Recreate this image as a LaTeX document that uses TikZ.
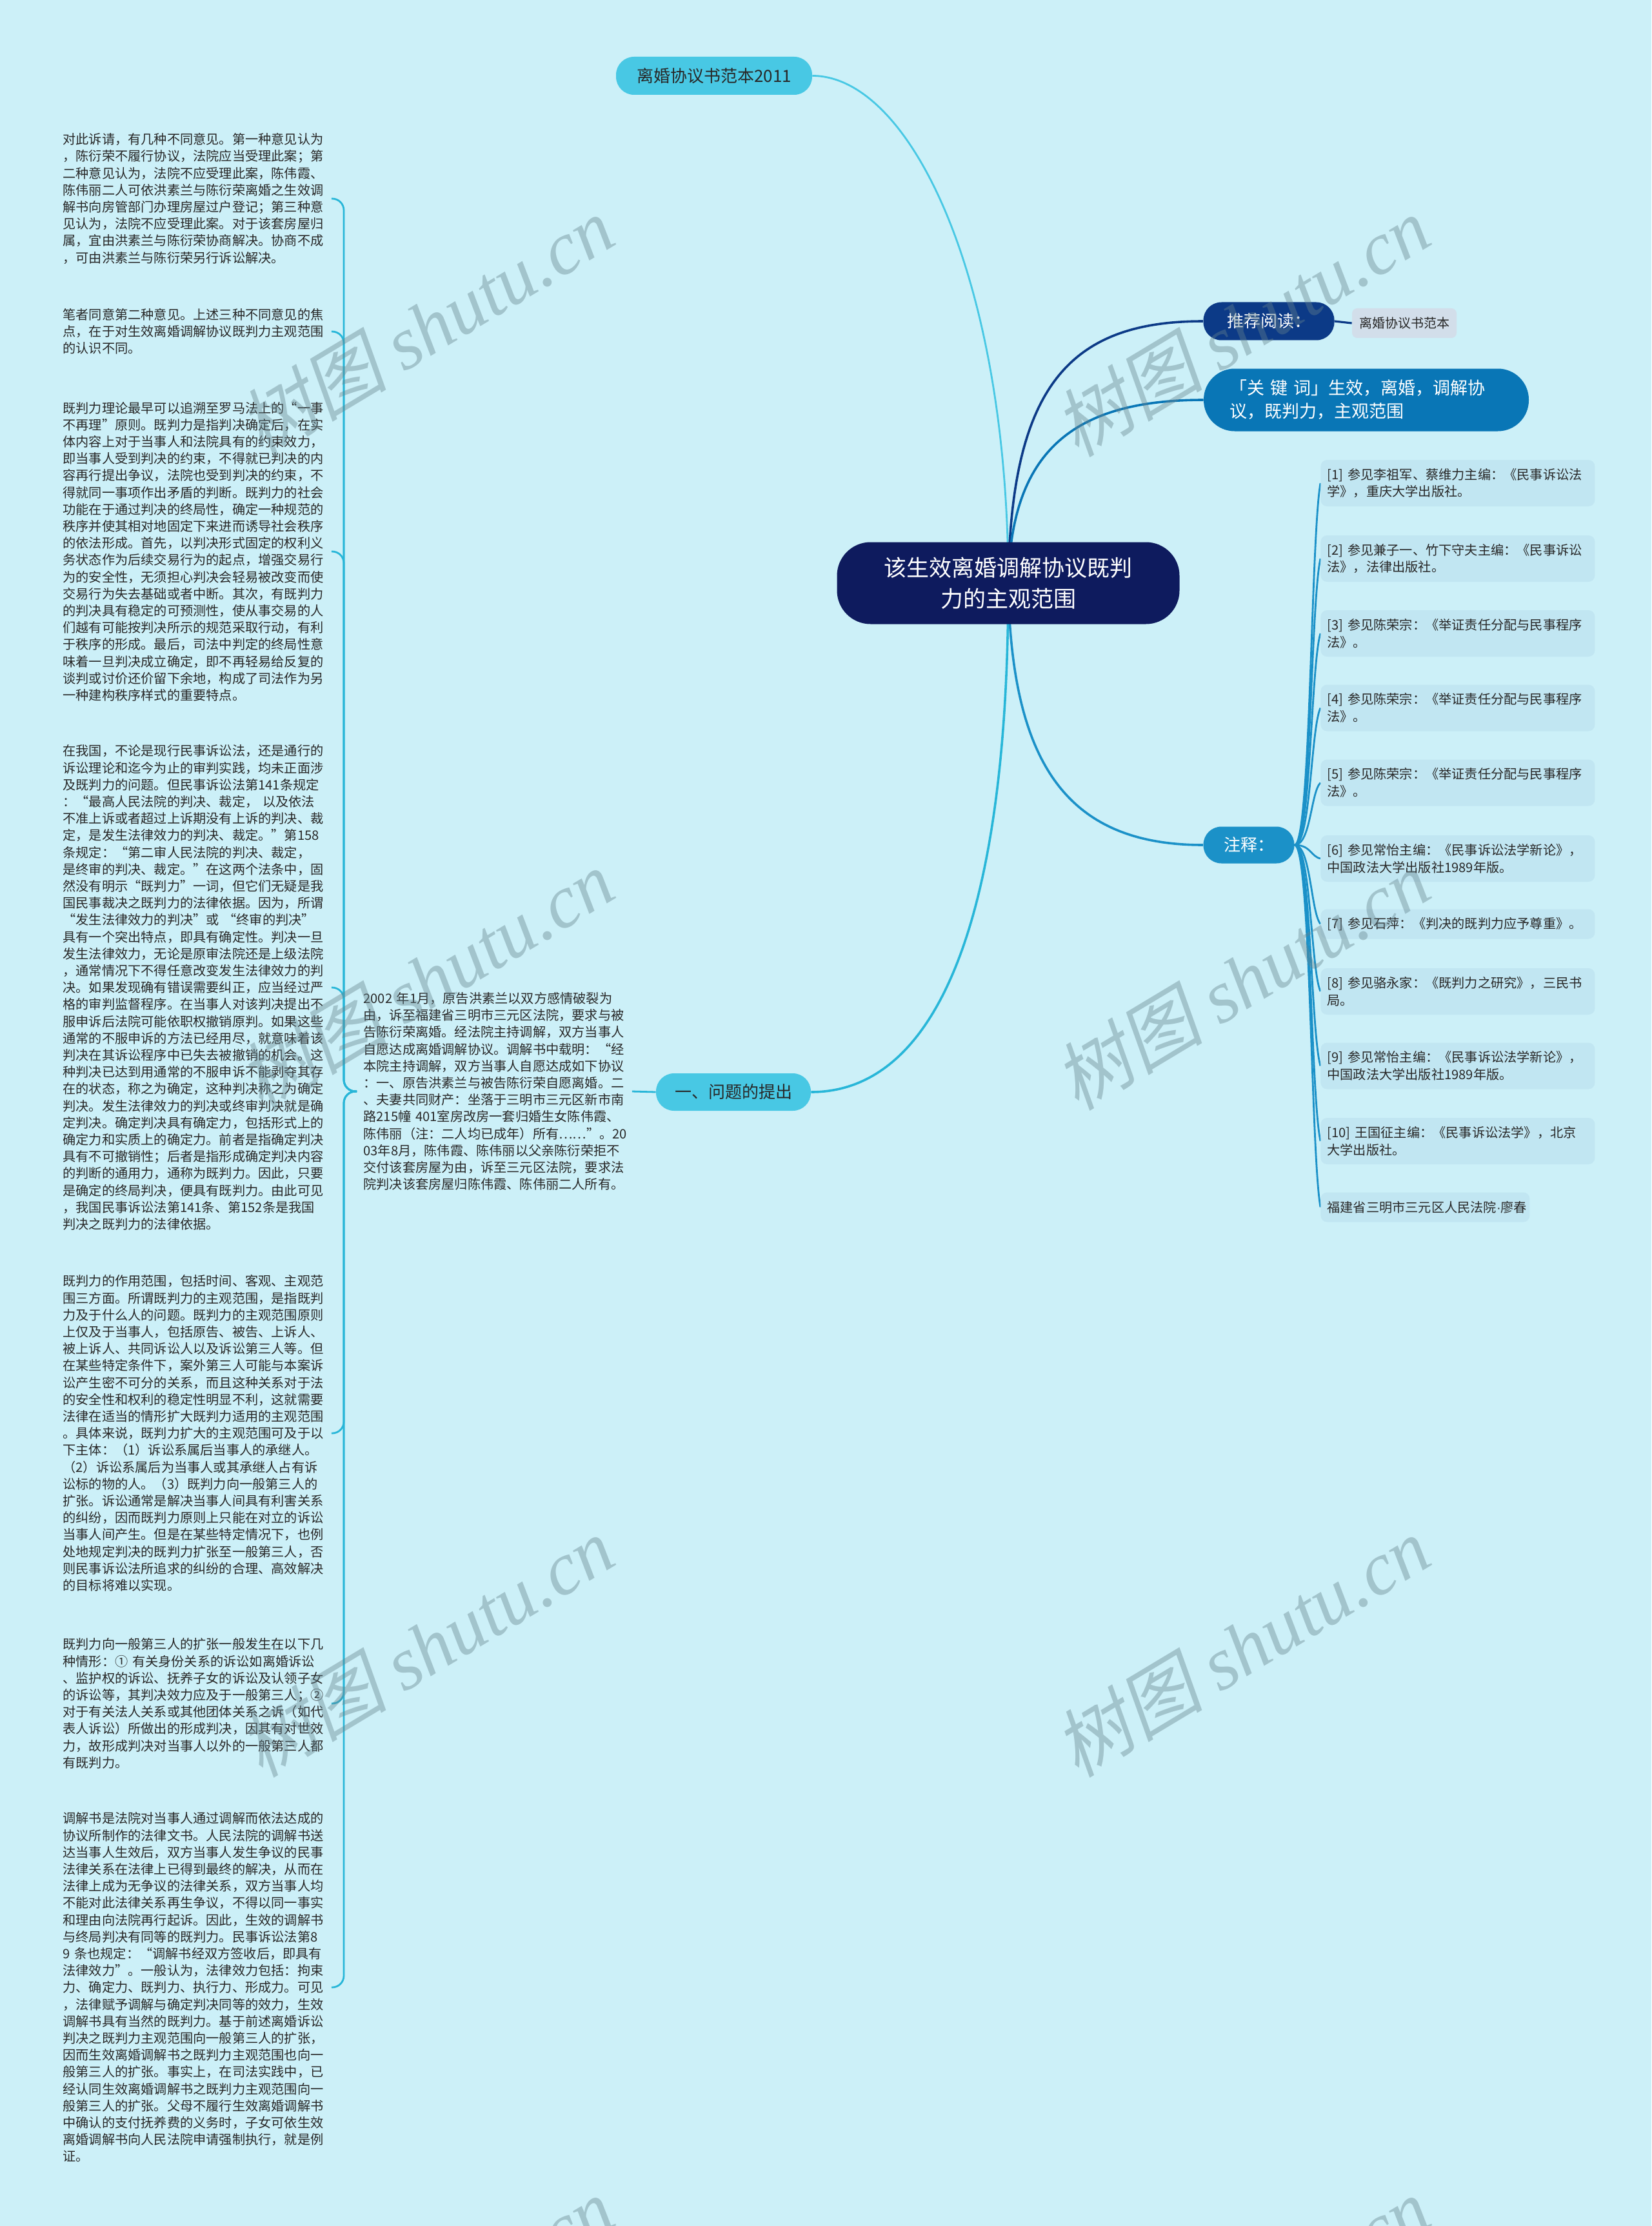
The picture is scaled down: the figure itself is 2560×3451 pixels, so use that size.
\documentclass[tikz,border=0pt]{standalone}
\usepackage{fontspec}
\setmainfont{Noto Sans CJK SC}
\newfontfamily\wmlatin{Liberation Serif}
\newfontfamily\dotfont{Liberation Sans}
\newfontfamily\wmcjk{Noto Sans CJK SC}[FakeSlant=0.2]
\definecolor{bgc}{RGB}{204,240,248}
\definecolor{txtc}{RGB}{40,40,40}
\definecolor{ctrc}{RGB}{14,27,94}
\definecolor{topc}{RGB}{72,200,228}
\definecolor{recc}{RGB}{12,58,135}
\definecolor{kwc}{RGB}{9,118,182}
\definecolor{zsc}{RGB}{27,145,200}
\definecolor{rchc}{RGB}{210,222,234}
\definecolor{notec}{RGB}{193,230,242}
\definecolor{lcyan}{RGB}{40,182,216}
\definecolor{wmc}{RGB}{100,130,140}
\pgfdeclarelayer{back}
\pgfdeclarelayer{lines}
\pgfsetlayers{back,lines,main}
\begin{document}
\begin{tikzpicture}[x=0.5pt,y=-0.5pt,
  txt/.style={font=\fontsize{10.1pt}{13.1pt}\selectfont, text=txtc, align=left,
    text width=203pt, inner xsep=5pt, inner ysep=2pt, anchor=west},
  note/.style={font=\fontsize{10.1pt}{13.3pt}\selectfont, text=txtc, align=left,
    text width=202.5pt, inner xsep=5pt, inner ysep=3pt, anchor=west, fill=notec,
    rounded corners=5pt, minimum height=36pt},
  note1/.style={note, minimum height=23pt},
  pill/.style={rounded corners=14pt, inner sep=0pt, align=center},
  ctrbox/.style={fill=ctrc, text=white, rounded corners=26pt, minimum width=265.5pt,
    minimum height=63.5pt, align=center, font=\fontsize{17.5pt}{24pt}\selectfont},
  topbox/.style={pill, fill=topc, text=txtc, minimum width=152pt, minimum height=29.5pt,
    font=\fontsize{13pt}{16pt}\selectfont},
  recbox/.style={pill, fill=recc, text=white, minimum width=101.5pt, minimum height=29.5pt,
    font=\fontsize{13pt}{16pt}\selectfont},
  rchbox/.style={fill=rchc, text=txtc, rounded corners=4pt, minimum width=81pt,
    minimum height=23pt, inner sep=0pt, font=\fontsize{10pt}{12pt}\selectfont},
  kwbox/.style={fill=kwc, text=white, rounded corners=24pt, text width=212pt,
    inner xsep=20pt, inner ysep=0pt, minimum height=48.5pt, align=left,
    font=\fontsize{13.5pt}{18pt}\selectfont},
  zsbox/.style={pill, fill=zsc, text=white, minimum width=70.5pt, minimum height=28.5pt,
    font=\fontsize{13pt}{16pt}\selectfont},
  qbox/.style={pill, fill=topc, text=txtc, minimum width=120pt, minimum height=29pt,
    font=\fontsize{13pt}{16pt}\selectfont},
  lline/.style={draw=lcyan, line width=1.4pt, rounded corners=9pt},
  nline/.style={draw=zsc, line width=1.4pt},
  wm/.style={text=wmc, opacity=0.4, rotate=31, font=\fontsize{58pt}{60pt}\selectfont, inner sep=0pt}
]
\begin{pgfonlayer}{back}
\fill[bgc] (0,0) rectangle (2560,3451);
\end{pgfonlayer}
\useasboundingbox (0,0) rectangle (2560,3451);

% central and branch nodes
\node[ctrbox] (ctr) at (1563,904) {该生效离婚调解协议既判\\力的主观范围};
\node[topbox] (top) at (1107,117.5) {离婚协议书范本2011};
\node[recbox] (rec) at (1967,498) {推荐阅读：};
\node[rchbox] (rch) at (2177,501) {离婚协议书范本};
\node[kwbox] (kw) at (2118,620) {「关 键 词」生效，离婚，调解协\\议，既判力，主观范围};
\node[zsbox] (zs) at (1936,1310) {注释：};
\node[qbox] (q1) at (1137,1693) {一、问题的提出};

% notes
\node[note] (n1) at (2047,749) {[1] 参见李祖军、蔡维力主编：《民事诉讼法\\学》，重庆大学出版社。};
\node[note] (n2) at (2047,866) {[2] 参见兼子一、竹下守夫主编：《民事诉讼\\法》，法律出版社。};
\node[note] (n3) at (2047,982) {[3] 参见陈荣宗：《举证责任分配与民事程序\\法》。};
\node[note] (n4) at (2047,1097.5) {[4] 参见陈荣宗：《举证责任分配与民事程序\\法》。};
\node[note] (n5) at (2047,1213.5) {[5] 参见陈荣宗：《举证责任分配与民事程序\\法》。};
\node[note] (n6) at (2047,1331) {[6] 参见常怡主编：《民事诉讼法学新论》，\\中国政法大学出版社1989年版。};
\node[note1] (n7) at (2047,1432.5) {[7] 参见石萍：《判决的既判力应予尊重》。};
\node[note] (n8) at (2047,1537) {[8] 参见骆永家：《既判力之研究》，三民书\\局。};
\node[note] (n9) at (2047,1652.5) {[9] 参见常怡主编：《民事诉讼法学新论》，\\中国政法大学出版社1989年版。};
\node[note] (n10) at (2047,1769) {[10] 王国征主编：《民事诉讼法学》，北京\\大学出版社。};
\node[note1, text width=152pt] (n11) at (2047,1871.5) {福建省三明市三元区人民法院{\dotfont ·}廖春};

% middle block
\node[txt] (mid) at (553,1692) {2002 年1月，原告洪素兰以双方感情破裂为\\由，诉至福建省三明市三元区法院，要求与被\\告陈衍荣离婚。经法院主持调解，双方当事人\\自愿达成离婚调解协议。调解书中载明：“经\\本院主持调解，双方当事人自愿达成如下协议\\：一、原告洪素兰与被告陈衍荣自愿离婚。二\\、夫妻共同财产：坐落于三明市三元区新市南\\路215幢 401室房改房一套归婚生女陈伟霞、\\陈伟丽（注：二人均已成年）所有……”。20\\03年8月，陈伟霞、陈伟丽以父亲陈衍荣拒不\\交付该套房屋为由，诉至三元区法院，要求法\\院判决该套房屋归陈伟霞、陈伟丽二人所有。};

% left blocks
\node[txt] (b1) at (87,308) {对此诉请，有几种不同意见。第一种意见认为\\，陈衍荣不履行协议，法院应当受理此案；第\\二种意见认为，法院不应受理此案，陈伟霞、\\陈伟丽二人可依洪素兰与陈衍荣离婚之生效调\\解书向房管部门办理房屋过户登记；第三种意\\见认为，法院不应受理此案。对于该套房屋归\\属，宜由洪素兰与陈衍荣协商解决。协商不成\\，可由洪素兰与陈衍荣另行诉讼解决。};
\node[txt] (b2) at (87,514) {笔者同意第二种意见。上述三种不同意见的焦\\点，在于对生效离婚调解协议既判力主观范围\\的认识不同。};
\node[txt] (b3) at (87,855) {既判力理论最早可以追溯至罗马法上的“一事\\不再理”原则。既判力是指判决确定后，在实\\体内容上对于当事人和法院具有的约束效力，\\即当事人受到判决的约束，不得就已判决的内\\容再行提出争议，法院也受到判决的约束，不\\得就同一事项作出矛盾的判断。既判力的社会\\功能在于通过判决的终局性，确定一种规范的\\秩序并使其相对地固定下来进而诱导社会秩序\\的依法形成。首先，以判决形式固定的权利义\\务状态作为后续交易行为的起点，增强交易行\\为的安全性，无须担心判决会轻易被改变而使\\交易行为失去基础或者中断。其次，有既判力\\的判决具有稳定的可预测性，使从事交易的人\\们越有可能按判决所示的规范采取行动，有利\\于秩序的形成。最后，司法中判定的终局性意\\味着一旦判决成立确定，即不再轻易给反复的\\谈判或讨价还价留下余地，构成了司法作为另\\一种建构秩序样式的重要特点。};
\node[txt] (b4) at (87,1531) {在我国，不论是现行民事诉讼法，还是通行的\\诉讼理论和迄今为止的审判实践，均未正面涉\\及既判力的问题。但民事诉讼法第141条规定\\：“最高人民法院的判决、裁定， 以及依法\\不准上诉或者超过上诉期没有上诉的判决、裁\\定，是发生法律效力的判决、裁定。”第158\\条规定：“第二审人民法院的判决、裁定，\\是终审的判决、裁定。”在这两个法条中，固\\然没有明示“既判力”一词，但它们无疑是我\\国民事裁决之既判力的法律依据。因为，所谓\\“发生法律效力的判决”或 “终审的判决”\\具有一个突出特点，即具有确定性。判决一旦\\发生法律效力，无论是原审法院还是上级法院\\，通常情况下不得任意改变发生法律效力的判\\决。如果发现确有错误需要纠正，应当经过严\\格的审判监督程序。在当事人对该判决提出不\\服申诉后法院可能依职权撤销原判。如果这些\\通常的不服申诉的方法已经用尽，就意味着该\\判决在其诉讼程序中已失去被撤销的机会。这\\种判决已达到用通常的不服申诉不能剥夺其存\\在的状态，称之为确定，这种判决称之为确定\\判决。发生法律效力的判决或终审判决就是确\\定判决。确定判决具有确定力，包括形式上的\\确定力和实质上的确定力。前者是指确定判决\\具有不可撤销性；后者是指形成确定判决内容\\的判断的通用力，通称为既判力。因此，只要\\是确定的终局判决，便具有既判力。由此可见\\，我国民事诉讼法第141条、第152条是我国\\判决之既判力的法律依据。};
\node[txt] (b5) at (87,2222) {既判力的作用范围，包括时间、客观、主观范\\围三方面。所谓既判力的主观范围，是指既判\\力及于什么人的问题。既判力的主观范围原则\\上仅及于当事人，包括原告、被告、上诉人、\\被上诉人、共同诉讼人以及诉讼第三人等。但\\在某些特定条件下，案外第三人可能与本案诉\\讼产生密不可分的关系，而且这种关系对于法\\的安全性和权利的稳定性明显不利，这就需要\\法律在适当的情形扩大既判力适用的主观范围\\。具体来说，既判力扩大的主观范围可及于以\\下主体：（1）诉讼系属后当事人的承继人。\\（2）诉讼系属后为当事人或其承继人占有诉\\讼标的物的人。（3）既判力向一般第三人的\\扩张。诉讼通常是解决当事人间具有利害关系\\的纠纷，因而既判力原则上只能在对立的诉讼\\当事人间产生。但是在某些特定情况下，也例\\处地规定判决的既判力扩张至一般第三人，否\\则民事诉讼法所追求的纠纷的合理、高效解决\\的目标将难以实现。};
\node[txt] (b6) at (87,2641) {既判力向一般第三人的扩张一般发生在以下几\\种情形：① 有关身份关系的诉讼如离婚诉讼\\、监护权的诉讼、抚养子女的诉讼及认领子女\\的诉讼等，其判决效力应及于一般第三人；②\\对于有关法人关系或其他团体关系之诉（如代\\表人诉讼）所做出的形成判决，因其有对世效\\力，故形成判决对当事人以外的一般第三人都\\有既判力。};
\node[txt] (b7) at (87,3081) {调解书是法院对当事人通过调解而依法达成的\\协议所制作的法律文书。人民法院的调解书送\\达当事人生效后，双方当事人发生争议的民事\\法律关系在法律上已得到最终的解决，从而在\\法律上成为无争议的法律关系，双方当事人均\\不能对此法律关系再生争议，不得以同一事实\\和理由向法院再行起诉。因此，生效的调解书\\与终局判决有同等的既判力。民事诉讼法第8\\9 条也规定：“调解书经双方签收后，即具有\\法律效力”。一般认为，法律效力包括：拘束\\力、确定力、既判力、执行力、形成力。可见\\，法律赋予调解与确定判决同等的效力，生效\\调解书具有当然的既判力。基于前述离婚诉讼\\判决之既判力主观范围向一般第三人的扩张，\\因而生效离婚调解书之既判力主观范围也向一\\般第三人的扩张。事实上，在司法实践中，已\\经认同生效离婚调解书之既判力主观范围向一\\般第三人的扩张。父母不履行生效离婚调解书\\中确认的支付抚养费的义务时，子女可依生效\\离婚调解书向人民法院申请强制执行，就是例\\证。};

% connectors
\begin{pgfonlayer}{lines}
\draw[draw=topc, line width=1.4pt] (ctr.center) .. controls (1563,432) and (1411,117.5) .. (top.east);
\draw[draw=recc, line width=1.8pt] (ctr.center) .. controls (1567,600) and (1657,498) .. (rec.west);
\draw[draw=recc, line width=1.6pt] (rec.east) -- (rch.west);
\draw[draw=kwc, line width=1.8pt] (ctr.center) .. controls (1567,705) and (1657,620) .. (kw.west);
\draw[draw=zsc, line width=1.8pt] (ctr.center) .. controls (1567,1188) and (1657,1310) .. (zs.west);
\draw[draw=lcyan, line width=1.8pt] (ctr.center) .. controls (1563,1456) and (1440,1693) .. (q1.east);
\draw[draw=lcyan, line width=1.4pt] (mid.east) -- (q1.west);
\foreach \b in {b1,b2,b3,b4,b5,b6,b7}
  \draw[lline] (mid.west) -- ++(-20,0) |- (\b.east);
\foreach \n/\y in {n1/749,n2/866,n3/982,n4/1097.5,n5/1213.5,n6/1331,n7/1432.5,n8/1537,n9/1652.5,n10/1769,n11/1871.5}
  \draw[nline] (zs.east) .. controls (2032,1310) and (2032,{\y+(1310-\y)*0.15}) .. (\n.west);
\end{pgfonlayer}

% watermarks
\foreach \i/\wx/\wy in {1/660/506,2/1925/506,3/660/1519,4/1925/1519,5/660/2553,6/1925/2553,7/660/3577,8/1925/3577}
  \node[wm] (wm\i) at (\wx,\wy) {{\wmcjk 树图} {\wmlatin\itshape shutu.cn}};
\end{tikzpicture}
\end{document}
